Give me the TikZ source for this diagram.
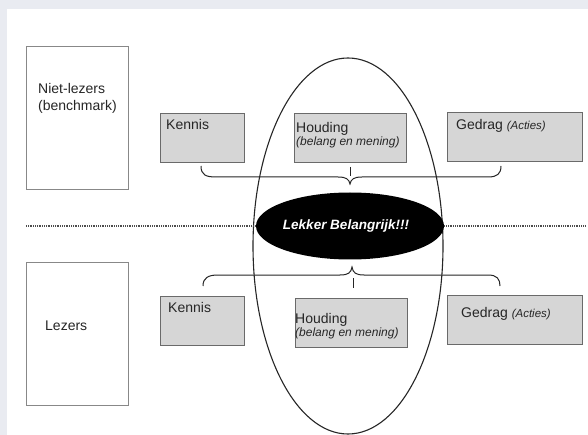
\documentclass[tikz,border=0pt]{standalone}
\usepackage{fontspec}
\setmainfont{Liberation Sans}
\usetikzlibrary{shapes.geometric,positioning}
\definecolor{bgblue}{HTML}{E9EBF1}
\definecolor{boxgrey}{HTML}{D6D6D6}
\definecolor{edgegrey}{HTML}{6A6A6A}
\tikzset{
	groep/.style={draw=edgegrey!80, line width=0.9pt, fill=white, anchor=north west, inner sep=0pt},
	fase/.style={draw=edgegrey, line width=1pt, fill=boxgrey, anchor=north west, inner sep=0pt},
	txt/.style={anchor=base west, inner sep=0pt, text=black!85, font=\fontsize{14}{17}\selectfont},
	sub/.style={anchor=base west, inner sep=0pt, text=black!85, font=\fontsize{12}{14}\selectfont\itshape},
	accolade/.style={line width=1pt, black!85},
	scheiding/.style={line width=1.3pt, black!70, dash pattern=on 1pt off 0.8pt},
	kernstyle/.style={ellipse, fill=black, minimum width=188pt, minimum height=67pt, inner sep=0pt, text=white, font=\fontsize{13.5}{15}\selectfont\bfseries\itshape},
}
\begin{document}
\begin{tikzpicture}[x=1pt,y=-1pt]
			\useasboundingbox (0,0) rectangle (588,435);
			\fill [bgblue] (0,0) rectangle (588,435);
			\fill [white] (7,9) rectangle (588,435);
			% groepen
			\node [groep, minimum width=102pt, minimum height=143pt] (nietlezers) at (26,46) {};
			\node [txt] (nietlezersA) at (38,94) {Niet-lezers};
			\node [txt] (nietlezersB) at (38,111) {(benchmark)};
			\node [groep, minimum width=102pt, minimum height=143pt] (lezers) at (26,262) {};
			\node [txt] (lezersA) at (45,330) {Lezers};
			% bovenste rij
			\node [fase, minimum width=84pt, minimum height=49pt] (kennisT) at (160,113) {};
			\node [txt] (kennisTA) at (166,130) {Kennis};
			\node [fase, minimum width=112pt, minimum height=49pt] (houdingT) at (294,113) {};
			\node [txt] (houdingTA) at (296,133) {Houding};
			\node [sub] (houdingTB) at (296,146) {(belang en mening)};
			\node [fase, minimum width=135pt, minimum height=49pt] (gedragT) at (447,112) {};
			\node [txt] (gedragTA) at (456,130) {Gedrag {\fontsize{11.5}{13}\selectfont\itshape (Acties)}};
			% onderste rij
			\node [fase, minimum width=84pt, minimum height=49pt] (kennisB) at (160,296) {};
			\node [txt] (kennisBA) at (168,312) {Kennis};
			\node [fase, minimum width=112pt, minimum height=49pt] (houdingB) at (295,298) {};
			\node [txt] (houdingBA) at (295,323) {Houding};
			\node [sub] (houdingBB) at (295,336) {(belang en mening)};
			\node [fase, minimum width=135pt, minimum height=49pt] (gedragB) at (447,295) {};
			\node [txt] (gedragBA) at (461,317) {Gedrag {\fontsize{11.5}{13}\selectfont\itshape (Acties)}};
			% accolades
			\coordinate (bT1) at (201,166);
			\coordinate (bTtip) at (350,184);
			\coordinate (bT2) at (501,166);
			\coordinate (tT1) at (350,167);
			\coordinate (tT2) at (350,176);
			\draw [accolade] (bT1) .. controls (201,175) and (206,177) .. (216,177) -- (338,177) .. controls (346,177) and (349,179) .. (bTtip) .. controls (351,179) and (354,177) .. (362,177) -- (488,177) .. controls (497,177) and (501,174) .. (bT2);
			\draw [accolade] (tT1) -- (tT2);
			\coordinate (bB1) at (203,286);
			\coordinate (bBtip) at (352,267);
			\coordinate (bB2) at (500,286);
			\coordinate (tB1) at (353,278);
			\coordinate (tB2) at (353,288);
			\draw [accolade] (bB1) .. controls (203,278) and (208,275) .. (218,275) -- (340,275) .. controls (348,275) and (351,273) .. (bBtip) .. controls (353,273) and (356,275) .. (364,275) -- (488,275) .. controls (497,275) and (500,279) .. (bB2);
			\draw [accolade] (tB1) -- (tB2);
			% grote ellips
			\draw [black!85, line width=1.1pt] (348,246) ellipse [x radius=95, y radius=188];
			% kern
			\node [kernstyle] (kern) at (350,226) {\hspace*{-8pt}Lekker Belangrijk!!!};
			\coordinate (lijnL) at (26,226);
			\coordinate (lijnR) at (585,226);
			\draw [scheiding] (lijnL) -- (kern.west);
			\draw [scheiding] (kern.east) -- (lijnR);
\end{tikzpicture}
\end{document}
